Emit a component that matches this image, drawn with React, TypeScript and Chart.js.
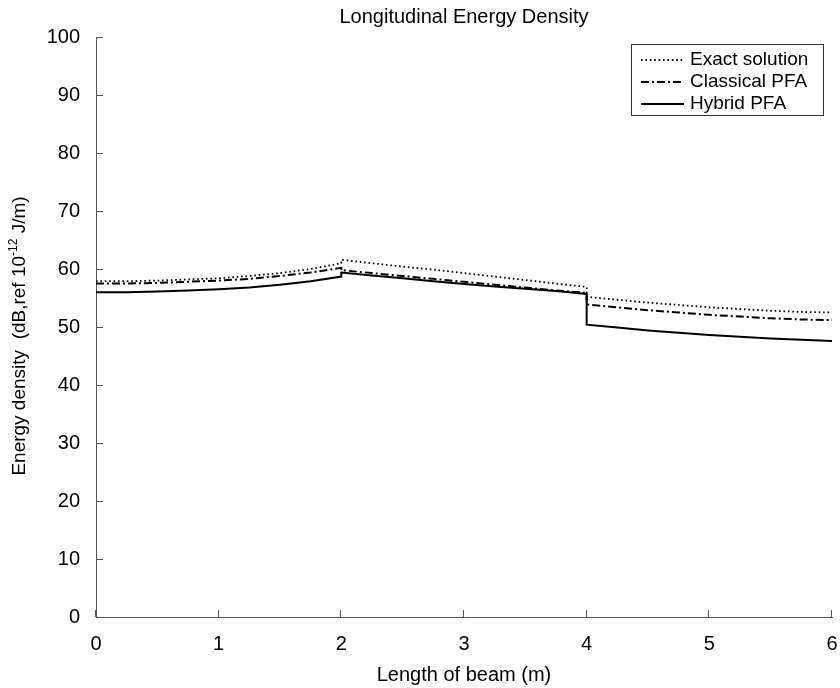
import { useEffect, useRef } from "react";
import { Chart, registerables } from "chart.js";

Chart.register(...registerables);

// Position along the beam (m); x = 2 and x = 4 appear twice for the jumps at the junctions
const beamX = [
  0, 0.25, 0.5, 0.75, 1, 1.25, 1.5, 1.75, 2,
  2, 2.25, 2.5, 2.75, 3, 3.25, 3.5, 3.75, 4,
  4, 4.25, 4.5, 4.75, 5, 5.25, 5.5, 5.75, 6,
];

// Energy density, dB ref 1e-12 J/m
const exactSolution = [
  57.9, 57.9, 58.0, 58.2, 58.4, 58.8, 59.3, 60.0, 61.0,
  61.6, 61.0, 60.4, 59.9, 59.3, 58.7, 58.1, 57.5, 56.9,
  55.2, 54.7, 54.2, 53.8, 53.4, 53.1, 52.8, 52.6, 52.5,
];
const classicalPFA = [
  57.5, 57.5, 57.6, 57.8, 58.0, 58.3, 58.8, 59.4, 60.2,
  59.8, 59.3, 58.8, 58.3, 57.8, 57.3, 56.8, 56.3, 55.9,
  53.9, 53.4, 52.9, 52.5, 52.1, 51.8, 51.5, 51.3, 51.2,
];
const hybridPFA = [
  56.0, 56.0, 56.1, 56.3, 56.5, 56.8, 57.3, 57.9, 58.7,
  59.4, 58.9, 58.4, 57.9, 57.4, 57.0, 56.6, 56.2, 55.7,
  50.4, 49.9, 49.4, 49.0, 48.6, 48.3, 48.0, 47.8, 47.6,
];

const seriesNames = ["Exact solution", "Classical PFA", "Hybrid PFA"];
const xTicks = [0, 1, 2, 3, 4, 5, 6];
const yTicks = [0, 10, 20, 30, 40, 50, 60, 70, 80, 90, 100];

const FONT = "'Liberation Sans', Arial, Helvetica, sans-serif";
const AXIS_COLOR = "#555555";
const DASHES: number[][] = [[1.6, 2.8], [8, 3, 2, 3], []];
const WIDTHS = [1.8, 2, 2];

const toPoints = (ys: number[]) => beamX.map((x, i) => ({ x, y: ys[i] }));

const decorations = {
  id: "decorations",
  afterDraw(chart: any) {
    const { ctx, chartArea } = chart;
    const xs = chart.scales.x;
    const ys = chart.scales.y;
    ctx.save();

    // inward tick marks
    ctx.strokeStyle = AXIS_COLOR;
    ctx.lineWidth = 1;
    ctx.beginPath();
    xTicks.forEach((v) => {
      const px = Math.round(xs.getPixelForValue(v)) - 0.5;
      ctx.moveTo(px, chartArea.bottom);
      ctx.lineTo(px, chartArea.bottom - 7);
    });
    yTicks.forEach((v) => {
      const py = Math.round(ys.getPixelForValue(v)) + 0.5;
      ctx.moveTo(chartArea.left, py);
      ctx.lineTo(chartArea.left + 7, py);
    });
    ctx.stroke();

    // title
    ctx.fillStyle = "#000";
    ctx.font = `20px ${FONT}`;
    ctx.textAlign = "center";
    ctx.textBaseline = "middle";
    ctx.fillText("Longitudinal Energy Density", (chartArea.left + chartArea.right) / 2, 17);

    // y-axis title with superscript exponent
    ctx.save();
    ctx.translate(20, 336);
    ctx.rotate(-Math.PI / 2);
    const mainFont = `19px ${FONT}`;
    const supFont = `12px ${FONT}`;
    const partA = "Energy density  (dB,ref 10";
    const partSup = "-12";
    const partB = " J/m)";
    ctx.font = mainFont;
    const wA = ctx.measureText(partA).width;
    const wB = ctx.measureText(partB).width;
    ctx.font = supFont;
    const wS = ctx.measureText(partSup).width;
    let cx = -(wA + wS + wB) / 2;
    ctx.textAlign = "left";
    ctx.textBaseline = "middle";
    ctx.font = mainFont;
    ctx.fillText(partA, cx, 0);
    cx += wA;
    ctx.font = supFont;
    ctx.fillText(partSup, cx, -6);
    cx += wS;
    ctx.font = mainFont;
    ctx.fillText(partB, cx, 0);
    ctx.restore();

    // legend
    const bx = 631.5;
    const by = 44.5;
    ctx.strokeStyle = "#333";
    ctx.lineWidth = 1;
    ctx.setLineDash([]);
    ctx.strokeRect(bx, by, 192, 71);
    ctx.font = `19px ${FONT}`;
    ctx.textAlign = "left";
    ctx.textBaseline = "middle";
    seriesNames.forEach((name, i) => {
      const ly = 60 + i * 22;
      ctx.strokeStyle = "#000";
      ctx.lineWidth = WIDTHS[i];
      ctx.setLineDash(DASHES[i]);
      ctx.beginPath();
      ctx.moveTo(641, ly);
      ctx.lineTo(684, ly);
      ctx.stroke();
      ctx.setLineDash([]);
      ctx.fillText(name, 690, ly);
    });
    ctx.restore();
  },
};

export default function App() {
  const canvasRef = useRef<HTMLCanvasElement>(null);

  useEffect(() => {
    const canvas = canvasRef.current;
    if (!canvas) return;
    const series = [exactSolution, classicalPFA, hybridPFA];
    const chart = new Chart(canvas, {
      type: "line",
      data: {
        datasets: series.map((ys, i) => ({
          label: seriesNames[i],
          data: toPoints(ys),
          borderColor: "#000",
          backgroundColor: "#000",
          borderWidth: WIDTHS[i],
          borderDash: DASHES[i],
          pointRadius: 0,
          tension: 0,
          fill: false,
        })),
      },
      options: {
        responsive: false,
        animation: false,
        layout: { autoPadding: false, padding: { left: 0, right: 8, top: 37, bottom: 0 } },
        plugins: {
          legend: { display: false },
          title: { display: false },
          tooltip: { enabled: false },
        },
        scales: {
          x: {
            type: "linear",
            min: 0,
            max: 6,
            afterFit: (s: any) => {
              s.height = 71;
              s.paddingLeft = 0;
              s.paddingRight = 0;
            },
            afterBuildTicks: (s: any) => {
              s.ticks = xTicks.map((v) => ({ value: v }));
            },
            grid: { display: false, drawTicks: false },
            border: { display: true, color: AXIS_COLOR, width: 1 },
            ticks: {
              padding: 15,
              color: "#000",
              font: { family: FONT, size: 20 },
              maxRotation: 0,
            },
            title: {
              display: true,
              text: "Length of beam (m)",
              color: "#000",
              font: { family: FONT, size: 20 },
              padding: { top: 0, bottom: 1 },
            },
          },
          y: {
            type: "linear",
            min: 0,
            max: 100,
            afterFit: (s: any) => {
              s.width = 96;
              s.paddingTop = 0;
              s.paddingBottom = 0;
            },
            afterBuildTicks: (s: any) => {
              s.ticks = yTicks.map((v) => ({ value: v }));
            },
            grid: { display: false, drawTicks: false },
            border: { display: true, color: AXIS_COLOR, width: 1 },
            ticks: {
              padding: 16,
              color: "#000",
              font: { family: FONT, size: 20 },
            },
          },
        },
      },
      plugins: [decorations],
    });
    return () => chart.destroy();
  }, []);

  return (
    <div style={{ position: "fixed", left: 0, top: 0, width: 840, height: 688, background: "#fff" }}>
      <canvas ref={canvasRef} width={840} height={688} style={{ display: "block" }} />
    </div>
  );
}
